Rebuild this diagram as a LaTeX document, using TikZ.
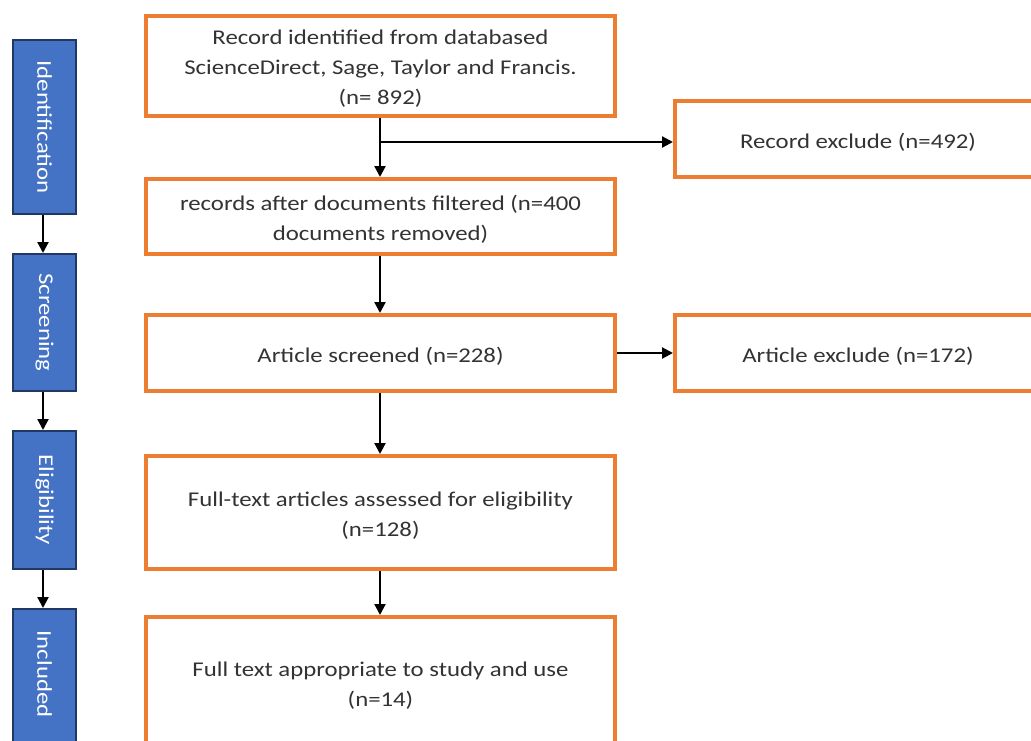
\documentclass[tikz,border=0pt]{standalone}
\usepackage{fontspec}
\setmainfont{Carlito}[FakeStretch=1.18]
\usetikzlibrary{arrows.meta}
\definecolor{boxorange}{HTML}{ED7D31}
\definecolor{stageblue}{HTML}{4472C4}
\definecolor{stageedge}{HTML}{1F3864}
\definecolor{txtgray}{HTML}{333333}
\begin{document}
\begin{tikzpicture}[x=1pt,y=-1pt,
  obox/.style={draw=boxorange, line width=4pt, fill=white, inner sep=0pt},
  otext/.style={text=txtgray, align=center, inner sep=0pt, yshift=-3pt,
    font=\fontsize{21}{30}\selectfont},
  sbox/.style={draw=stageedge, line width=2pt, fill=stageblue, inner sep=0pt,
    minimum width=63pt},
  stxt/.style={rotate=-90, text=white, font=\fontsize{21}{26}\selectfont},
  arr/.style={draw=black, line width=2.2pt, -{Triangle[length=11pt,width=11pt]}},
]
\useasboundingbox (0,0) rectangle (1031,740);
\begin{scope}
\clip (0,0) rectangle (1031,740);
% stage boxes
\node[sbox, minimum height=174pt] (s1) at (44.5,127) {};
\node[stxt] (t1) at (s1.center) {Identification};
\node[sbox, minimum height=137pt] (s2) at (44.5,322.5) {};
\node[stxt] (t2) at (s2.center) {Screening};
\node[sbox, minimum height=138pt] (s3) at (44.5,500) {};
\node[stxt] (t3) at (s3.center) {Eligibility};
\node[sbox, minimum height=160pt] (s4) at (44.5,689) {};
\node[stxt] (t4) at (44.5,674) {Included};
\draw[arr] (s1.south -| 43,0) -- (s2.north -| 43,0);
\draw[arr] (s2.south -| 43,0) -- (s3.north -| 43,0);
\draw[arr] (s3.south -| 43,0) -- (s4.north -| 43,0);
% main boxes
\node[obox, minimum width=469pt, minimum height=100pt,
  label={[otext]center:{Record identified from databased\\ScienceDirect, Sage, Taylor and Francis.\\(n= 892)}}]
  (b1) at (380.5,66) {};
\node[obox, minimum width=469pt, minimum height=75pt,
  label={[otext]center:{records after documents filtered (n=400\\documents removed)}}]
  (b2) at (380.5,216.5) {};
\node[obox, minimum width=469pt, minimum height=76pt,
  label={[otext]center:{Article screened (n=228)}}]
  (b3) at (380.5,353) {};
\node[obox, minimum width=469pt, minimum height=113pt,
  label={[otext]center:{Full-text articles assessed for eligibility\\(n=128)}}]
  (b4) at (380.5,512.5) {};
\node[obox, minimum width=469pt, minimum height=130pt,
  label={[otext,yshift=-1pt]center:{Full text appropriate to study and use\\(n=14)}}]
  (b5) at (380.5,682) {};
% right boxes
\node[obox, minimum width=366pt, minimum height=76pt,
  label={[otext]center:{Record exclude (n=492)}}]
  (r1) at (858,139) {};
\node[obox, minimum width=366pt, minimum height=76pt,
  label={[otext]center:{Article exclude (n=172)}}]
  (r2) at (858,353) {};
% connectors
\coordinate (br) at (380,142);
\draw[arr] (b1.south -| 380,0) -- (b2.north -| 380,0);
\draw[arr] (br) -- (r1.west |- br);
\draw[arr] (b2.south -| 380,0) -- (b3.north -| 380,0);
\draw[arr] (b3.east) -- (r2.west);
\draw[arr] (b3.south -| 380,0) -- (b4.north -| 380,0);
\draw[arr] (b4.south -| 380,0) -- (b5.north -| 380,0);
\end{scope}
\end{tikzpicture}
\end{document}
